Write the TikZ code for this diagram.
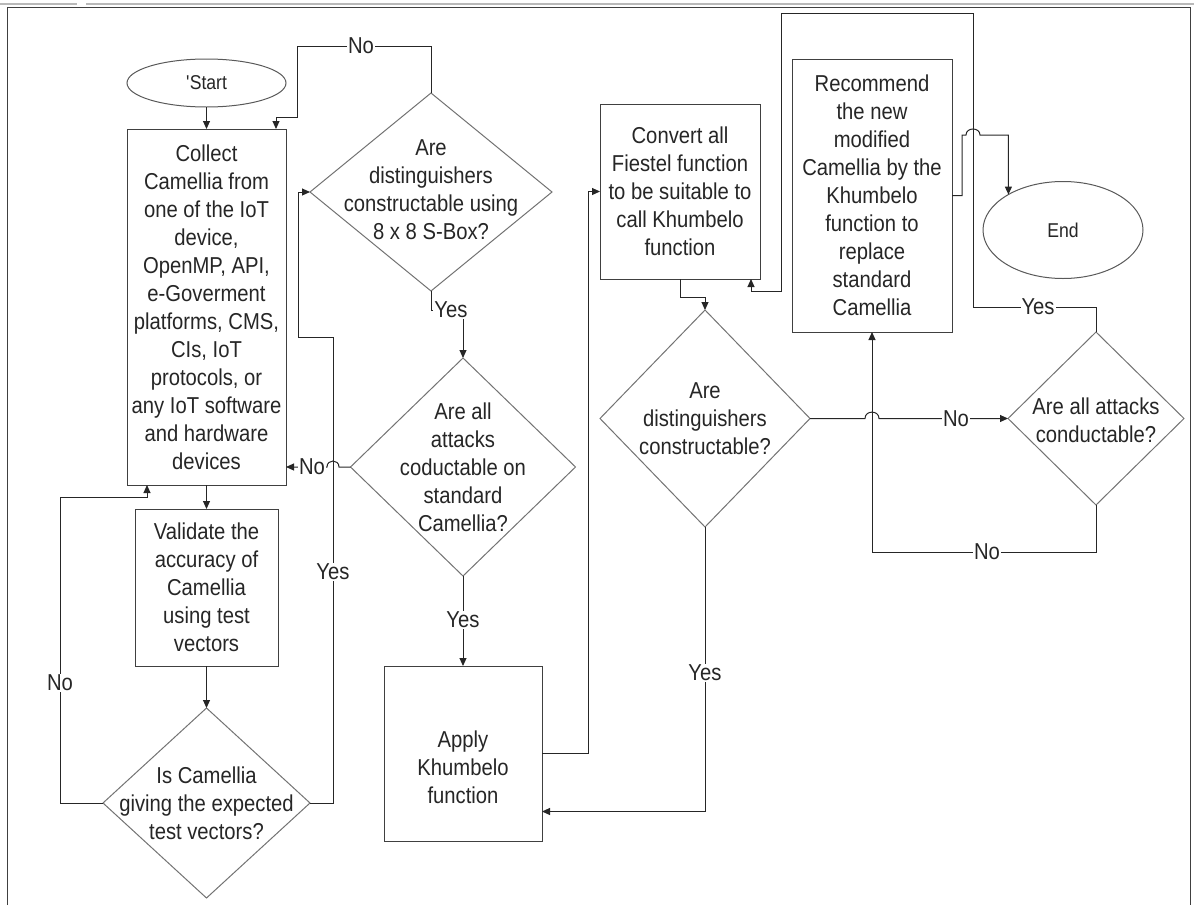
\documentclass[tikz,border=0pt]{standalone}
\usepackage{fontspec}
\setmainfont[FakeStretch=0.88]{Liberation Sans}
\usetikzlibrary{shapes.geometric,arrows.meta}

\begin{document}
\begin{tikzpicture}[x=1pt,y=-1pt,
  every node/.style={inner sep=0pt, outer sep=0pt},
  body/.style={font=\fontsize{23}{28}\selectfont, text=black!85, align=center},
  box/.style={draw=black!75, line width=1pt, fill=white, rectangle},
  dec/.style={draw=black!55, line width=1pt, diamond, fill=white},
  term/.style={draw=black!65, line width=1pt, ellipse, fill=white},
  small/.style={font=\fontsize{20}{24}\selectfont, text=black!85},
  lbl/.style={font=\fontsize{23}{26}\selectfont, fill=white, inner sep=1pt, text=black!85},
  flow/.style={draw=black!85, line width=1pt, -{Triangle[length=8pt,width=7pt]}},
  link/.style={draw=black!85, line width=1pt},
]
\useasboundingbox (0,0) rectangle (1194,905);

% page frame
\draw[gray!55, line width=1.5pt] (0,4) -- (77,4) (86,4) -- (1194,4);
\draw[black!75, line width=1pt] (7,905) -- (7,7) -- (1190,7) -- (1190,905);

% terminals
\node[term, small, minimum width=159, minimum height=48] (startnode) at (206.5,83) {\textquotesingle Start};
\node[term, small, minimum width=160, minimum height=97] (endnode) at (1063,230) {End};

% process boxes
\node[box, body, minimum width=159, minimum height=356] (collect) at (206.5,307)
  {Collect\\Camellia from\\one of the IoT\\device,\\OpenMP, API,\\e-Goverment\\platforms, CMS,\\CIs, IoT\\protocols, or\\any IoT software\\and hardware\\devices};
\node[box, body, minimum width=143, minimum height=157] (validate) at (206.5,587.5)
  {Validate the\\accuracy of\\Camellia\\using test\\vectors};
\node[box, minimum width=158, minimum height=175] (apply) at (463,753.5) {};
\node[body] (applyt) at (463,767) {Apply\\Khumbelo\\function};
\node[box, body, minimum width=160, minimum height=175] (convert) at (680,191.5)
  {Convert all\\Fiestel function\\to be suitable to\\call Khumbelo\\function};
\node[box, body, minimum width=160, minimum height=273] (recommend) at (872,195.5)
  {Recommend\\the new\\modified\\Camellia by the\\Khumbelo\\function to\\replace\\standard\\Camellia};

% decisions
\node[dec, minimum width=242, minimum height=198] (d1) at (431,192) {};
\node[body] (d1t) at (431,190) {Are\\distinguishers\\constructable using\\8 x 8 S-Box?};
\node[dec, minimum width=225, minimum height=218] (d2) at (463,467) {};
\node[body] (d2t) at (463,467) {Are all\\attacks\\coductable on\\standard\\Camellia?};
\node[dec, minimum width=207, minimum height=190] (d3) at (206.5,803) {};
\node[body] (d3t) at (206.5,803) {Is Camellia\\giving the expected\\test vectors?};
\node[dec, minimum width=210, minimum height=217] (d4) at (705,418.5) {};
\node[body] (d4t) at (705,418.5) {Are\\distinguishers\\constructable?};
\node[dec, minimum width=176, minimum height=173] (d5) at (1096,418.5) {};
\node[body] (d5t) at (1096,420) {Are all attacks\\conductable?};

% main flow
\draw[flow] (startnode.south) -- (collect.north);
\draw[flow] (collect.south) -- (validate.north);
\draw[flow] (validate.south) -- (d3.north);

% test vectors not matched: back to collection
\draw[flow] (d3.west) -- (60,803) -- (60,497) -- (147,497) -- ([xshift=20pt]collect.south west);
% test vectors matched: on to the S-Box question
\draw[flow] (d3.east) -- (333,803) -- (333,337) -- (298,337) -- (298,192) -- (d1.west);
% no distinguishers: back to collection
\draw[flow] (d1.north) -- (431,46) -- (297,46) -- (297,117) -- (276,117) -- ([xshift=-10pt]collect.north east);
% distinguishers found
\draw[flow] (d1.south) -- (431,310) -- (463,310) -- (d2.north);
% attacks not conductable: back to collection, hopping the vertical line
\draw[flow] (d2.west) -- (339,467) .. controls (339,459) and (327,459) .. (327,467) -- (collect.east |- d2.west);
\draw[flow] (d2.south) -- (apply.north);
\draw[flow] (apply.east) -- (588,753.5) |- (convert.west);
\draw[flow] (convert.south) -- (680,297) -| (d4.north);
% distinguishers not constructable: check attacks, hopping the return line
\draw[flow] (d4.east) -- (865,418.5) .. controls (865,410) and (879,410) .. (879,418.5) -- (d5.west);
\draw[flow] (d4.south) |- ([yshift=-58pt]apply.east);
\draw[flow] (d5.south) -- (1096,552) -| (recommend.south);
\draw[flow] (d5.north) -- (1096,307) -- (973,307) -- (973,13) -- (781,13) -- (781,291) -- (751,291) -- ([xshift=71pt]convert.south);
% recommended cipher ends the flow
\coordinate (hopend) at (1008,135);
\draw[flow] (recommend.east) -- (962,195.5) -- (962,135) -- (966,135) .. controls (966,127) and (980,127) .. (980,135) -- (endnode.147 |- hopend) -- (endnode.147);

% branch labels
\node[lbl] (l1) at (361,46) {No};
\node[lbl] (l2) at (451,310) {Yes};
\node[lbl] (l3) at (312,467) {No};
\node[lbl] (l4) at (333,572) {Yes};
\node[lbl] (l5) at (60,683) {No};
\node[lbl] (l6) at (463,620) {Yes};
\node[lbl] (l7) at (705,673) {Yes};
\node[lbl] (l8) at (956,418.5) {No};
\node[lbl] (l9) at (987,552) {No};
\node[lbl] (l10) at (1038,307) {Yes};
\end{tikzpicture}
\end{document}
